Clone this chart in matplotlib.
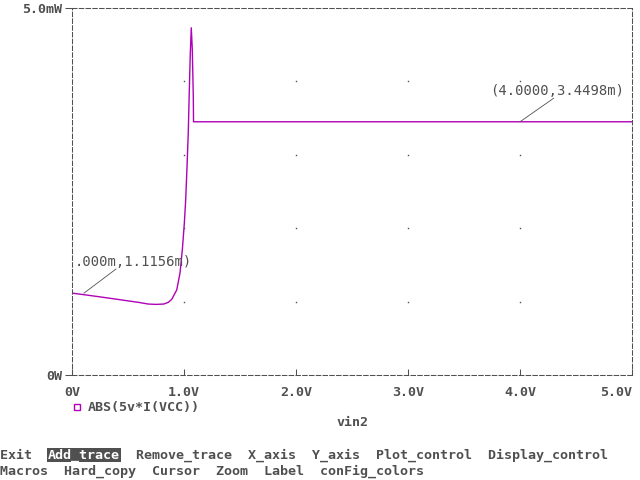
import matplotlib
matplotlib.use("Agg")
import matplotlib.pyplot as plt
from matplotlib.lines import Line2D

# trace ABS(5v*I(VCC)) in mW vs vin2 in V
vin2 = [0.0, 0.2, 0.4, 0.6, 0.68, 0.75, 0.82, 0.86, 0.89, 0.935, 0.964,
        0.985, 1.003, 1.015, 1.027, 1.038, 1.047, 1.056, 1.065, 1.074,
        1.083, 1.085, 2.0, 3.0, 4.0, 5.0]
p_mw = [1.1156, 1.075, 1.032, 0.988, 0.967, 0.962, 0.967, 0.99, 1.03, 1.158,
        1.386, 1.703, 2.067, 2.384, 2.838, 3.297, 3.85, 4.37, 4.73, 4.44,
        3.80, 3.4498, 3.4498, 3.4498, 3.4498, 3.4498]

x_ticks = [0, 1, 2, 3, 4, 5]
x_labels = ["0V", "1.0V", "2.0V", "3.0V", "4.0V", "5.0V"]
y_ticks = [0, 5]
y_labels = ["0W", "5.0mW"]
grid_x = [1, 2, 3, 4]
grid_y = [1, 2, 3, 4]

cur1 = (0.0, 1.1156)
cur2 = (4.0, 3.4498)

menu1 = "Exit  Add_trace  Remove_trace  X_axis  Y_axis  Plot_control  Display_control"
menu2 = "Macros  Hard_copy  Cursor  Zoom  Label  conFig_colors"

GRAY = "#505050"
MAG = "#b000b8"
FONT = "DejaVu Sans Mono"

fig = plt.figure(figsize=(6.4, 4.8), dpi=100)
fig.patch.set_facecolor("white")
ax = fig.add_axes([72 / 640, 1 - 375 / 480, 560 / 640, 367 / 480])

ax.plot(vin2, p_mw, color=MAG, lw=1.0)
ax.set_xlim(0, 5)
ax.set_ylim(0, 5)

# grid dots
for gx in grid_x:
    for gy in grid_y:
        ax.plot(gx, gy, marker="s", ms=1.0, color=GRAY, mew=0)

for s in ax.spines.values():
    s.set_linestyle((0, (4.3, 2.2)))
    s.set_color(GRAY)
    s.set_linewidth(0.75)

ax.set_xticks(x_ticks)
ax.set_xticklabels(x_labels)
ax.set_yticks(y_ticks)
ax.set_yticklabels(y_labels)
ax.tick_params(axis="x", direction="in", length=4, width=0.75, color=GRAY,
               labelcolor=GRAY, pad=8)
ax.tick_params(axis="y", direction="out", length=5, width=0.75, color=GRAY,
               labelcolor=GRAY, pad=2)
for lab in ax.get_xticklabels() + ax.get_yticklabels():
    lab.set_fontfamily(FONT)
    lab.set_fontsize(9.6)
    lab.set_fontweight("bold")
ax.get_xticklabels()[-1].set_horizontalalignment("right")

# cursor labels (left one is cut by the plot edge, as on screen)
ax.plot([cur1[0] + 0.107, 0.393], [cur1[1], 1.444], color=GRAY, lw=0.6)
ax.text(0.022, 1.535, ".000m,%.4fm)" % cur1[1], family=FONT,
        fontsize=10, color=GRAY, va="center", ha="left")
ax.plot([cur2[0], 4.30], [cur2[1], 3.77], color=GRAY, lw=0.6)
ax.text(3.732, 3.873, "(%.4f,%.4fm)" % (cur2[0], cur2[1]), family=FONT,
        fontsize=10, color=GRAY, va="center", ha="left")

# legend
fig.add_artist(Line2D([77 / 640], [1 - 407 / 480], marker="s", ms=5,
                      mfc="none", mec=MAG, mew=1.0, transform=fig.transFigure))
fig.text(88 / 640, 1 - 407 / 480, "ABS(5v*I(VCC))", family=FONT, fontsize=9.6,
         fontweight="bold", color=GRAY, va="center", ha="left")
fig.text(352 / 640, 1 - 423 / 480, "vin2", family=FONT, fontsize=9.6,
         fontweight="bold", color=GRAY, va="center", ha="center")

# menu bar
fig.text(0, 1 - 455 / 480, menu1.replace("Add_trace", " " * 9), family=FONT,
         fontsize=9.6, fontweight="bold", color=GRAY, va="center", ha="left")
fig.text(48 / 640, 1 - 455 / 480, "Add_trace", family=FONT, fontsize=9.6,
         fontweight="bold", color="white", va="center", ha="left",
         bbox=dict(facecolor=GRAY, edgecolor="none", pad=0.6))
fig.text(0, 1 - 471 / 480, menu2, family=FONT, fontsize=9.6,
         fontweight="bold", color=GRAY, va="center", ha="left")

fig.savefig("out.png", dpi=100)
